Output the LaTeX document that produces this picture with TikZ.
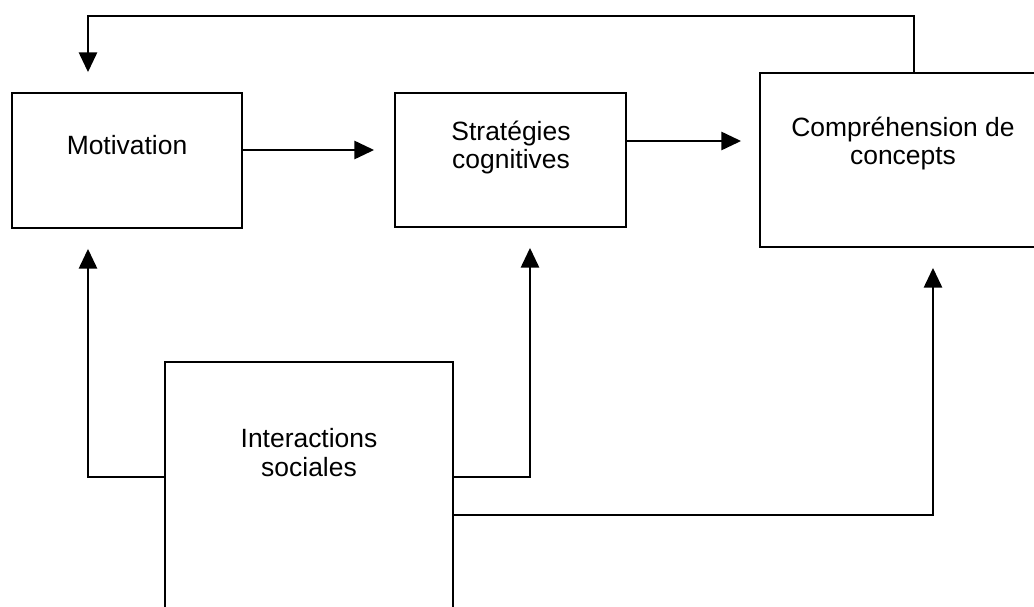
\documentclass[tikz,border=0pt]{standalone}
\usepackage{fontspec}
\setmainfont{Liberation Sans}
\usepackage{tikz}
\usetikzlibrary{arrows.meta,positioning,calc}
\definecolor{lineBlack}{RGB}{0, 0, 0}
\definecolor{paperWhite}{RGB}{255, 255, 255}

\tikzset{
    blockbox/.style={draw=lineBlack, fill=paperWhite, line width=1.3pt, inner sep=0pt},
    blocktext/.style={align=center, inner sep=0pt, font=\fontsize{18.8pt}{20.6pt}\selectfont, text=lineBlack},
    flowarrow/.style={draw=lineBlack, line width=1.3pt, -{Triangle[length=14pt,width=13pt]}, shorten >=0.5cm}
}

\begin{document}
\begin{tikzpicture}[x=0.025cm, y=-0.025cm]
    \useasboundingbox (0,0) rectangle (1034,606);
    \clip (0,0) rectangle (1034,606);

    % blocks
    \node[blockbox, minimum width=5.75cm, minimum height=3.375cm] (motiv) at (127,160.5) {};
    \node[blockbox, minimum width=5.775cm, minimum height=3.35cm] (strat) at (510.5,160) {};
    \node[blockbox, minimum width=7.15cm, minimum height=4.35cm] (compr) at (903,160) {};
    \node[blockbox, minimum width=7.2cm, minimum height=7.2cm] (inter) at (309,506) {};

    % texts
    \node[blocktext] (motiv-t) at (127,145) {Motivation};
    \node[blocktext] (strat-t) at (511,147.5) {Stratégies\\cognitives};
    \node[blocktext] (compr-t) at (903,143.5) {Compréhension de\\concepts};
    \node[blocktext] (inter-t) at (309,452.5) {Interactions\\sociales};

    % connectors
    \draw[flowarrow] (compr.north -| 914,0) -- (914,16) -| (motiv.north -| 88,0);
    \draw[flowarrow] (motiv.east |- 0,150) -- (strat.west |- 0,150);
    \draw[flowarrow, shorten >=0.45cm] (strat.east |- 0,141) -- (compr.west |- 0,141);
    \draw[flowarrow] (inter.west |- 0,477) -| (motiv.south -| 88,0);
    \draw[flowarrow] (inter.east |- 0,477) -| (strat.south -| 530,0);
    \draw[flowarrow] (inter.east |- 0,515) -| (compr.south -| 933,0);
\end{tikzpicture}
\end{document}
